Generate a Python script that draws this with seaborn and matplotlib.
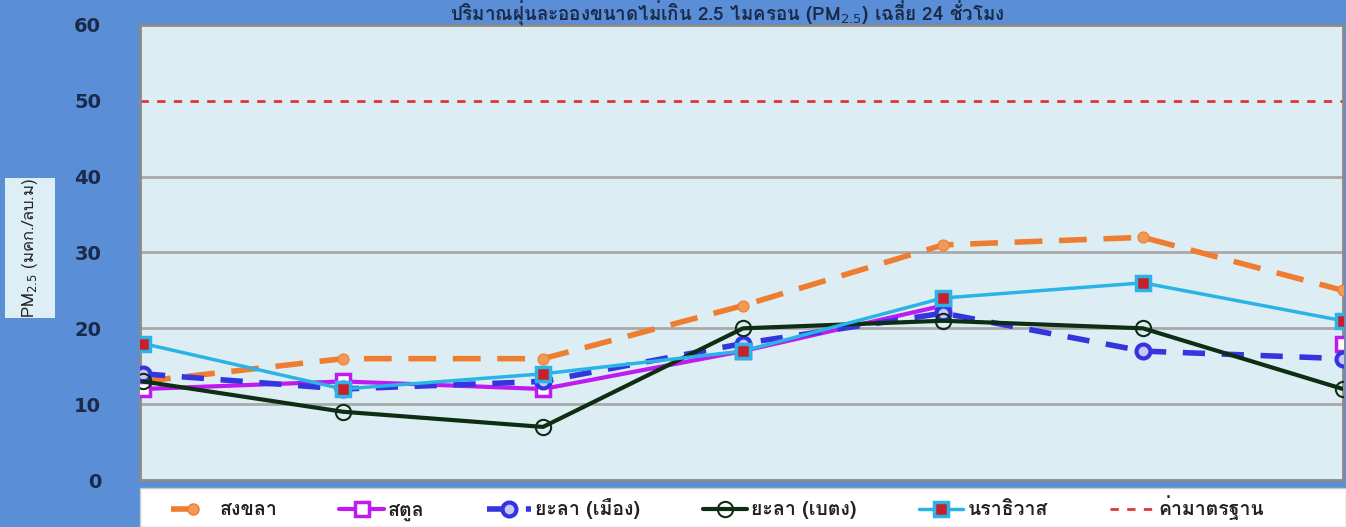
import matplotlib.pyplot as plt
import seaborn as sns
import numpy as np
import pandas as pd
from matplotlib import font_manager
from matplotlib.ft2font import FT2Font
from matplotlib.patches import Rectangle

# data (x labels are cropped in the reference)
days = [0, 1, 2, 3, 4, 5, 6]
songkhla = [13, 16, 16, 23, 31, 32, 25]
satun = [12, 13, 12, 17, 23, np.nan, 18]
yala_mueang = [14, 12, 13, 18, 22, 17, 16]
yala_betong = [13, 9, 7, 20, 21, 20, 12]
narathiwat = [18, 12, 14, 17, 24, 26, 21]
standard = 50
yticks = [0, 10, 20, 30, 40, 50, 60]

title = "ปริมาณฝุ่นละอองขนาดไม่เกิน 2.5 ไมครอน (PM$_{2.5}$) เฉลี่ย 24 ชั่วโมง"
ylabel = "PM$_{2.5}$ (มคก./ลบ.ม)"


def find_thai_font():
    """Return the name of an installed font that has Thai glyphs."""
    for f in font_manager.fontManager.ttflist:
        try:
            if 0x0E01 in FT2Font(f.fname).get_charmap():
                return f.name
        except Exception:
            continue
    return None


sns.set_theme(style="white")
thai = find_thai_font()
plt.rcParams["font.family"] = [thai, "DejaVu Sans"] if thai else ["DejaVu Sans"]

outer_blue = "#5A8ED6"
navy = "#1B2A4A"

fig = plt.figure(figsize=(13.46, 5.27), dpi=100, facecolor=outer_blue)
ax = fig.add_axes([140 / 1346, 47 / 527, 1203 / 1346, 455 / 527])
ax.set_facecolor("#DCEEF4")

# horizontal grid and standard line
for v in [10, 20, 30, 40]:
    ax.axhline(v, color="#A9A9A9", lw=2, zorder=1)
ax.axhline(standard, color="#E0363A", lw=2, ls=(0, (3, 3)), zorder=2)

series = [
    ("สงขลา", songkhla, dict(color="#EE7D30", lw=4, ls=(0, (5, 3)), marker="o",
                             markersize=8, markerfacecolor="#F29A55",
                             markeredgecolor="#EE7D30")),
    ("สตูล", satun, dict(color="#BF1AF0", lw=3, ls="-", marker="s", markersize=10,
                         markerfacecolor="white", markeredgecolor="#BF1AF0",
                         markeredgewidth=2.5)),
    ("ยะลา (เมือง)", yala_mueang, dict(color="#3535E0", lw=4, ls=(0, (4, 3)),
                                       marker="o", markersize=10,
                                       markerfacecolor="#C8C8F5",
                                       markeredgecolor="#3535E0",
                                       markeredgewidth=3)),
    ("ยะลา (เบตง)", yala_betong, dict(color="#0E2E14", lw=3, ls="-", marker="o",
                                      markersize=11, markerfacecolor="none",
                                      markeredgecolor="#0E2E14",
                                      markeredgewidth=1.5)),
    ("นราธิวาส", narathiwat, dict(color="#2AB3E6", lw=2.5, ls="-", marker="s",
                                  markersize=10, markerfacecolor="#C8202A",
                                  markeredgecolor="#2AB3E6",
                                  markeredgewidth=2.5)),
]

handles = []
for name, vals, style in series:
    df = pd.DataFrame({"day": days, "pm": vals})
    # split at missing values so gaps stay open
    seg = df["pm"].isna().cumsum()
    for _, part in df.dropna().groupby(seg[df["pm"].notna()]):
        sns.lineplot(data=part, x="day", y="pm", ax=ax, zorder=3,
                     legend=False, **style)
    handles.append(plt.Line2D([], [], label=name, **style))

handles.append(plt.Line2D([], [], color="#E0363A", lw=2, ls=(0, (3, 3)),
                          label="ค่ามาตรฐาน"))

ax.set_xlim(-0.015, 6)
ax.set_ylim(0, 60)
ax.set_xticks([])
ax.set_yticks(yticks)
ax.set_yticklabels([str(t) for t in yticks], fontsize=14, fontweight="bold",
                   color=navy, family="DejaVu Sans")
ax.tick_params(axis="y", length=0, pad=28)
ax.set_xlabel("")
ax.set_ylabel("")
for s in ax.spines.values():
    s.set_color("#8A8A8A")
    s.set_linewidth(2)

# title at the very top, above the plot area
fig.text(0.54, 1 - 12.5 / 527, title, ha="center", va="center",
         fontsize=13.5, fontweight="bold", color=navy)

# y label in its own light box
fig.patches.append(Rectangle((5 / 1346, 1 - 318 / 527), 50 / 1346, 140 / 527,
                             transform=fig.transFigure, facecolor="#DDEEF5",
                             edgecolor="none", zorder=0))
fig.text(30 / 1346, 1 - 248 / 527, ylabel, rotation=90, ha="center",
         va="center", fontsize=12, color="#222222")

# white legend band below the plot
fig.patches.append(Rectangle((140 / 1346, 0), 1206 / 1346, 39 / 527,
                             transform=fig.transFigure, facecolor="white",
                             edgecolor="#C8C8C8", zorder=0))
fig.legend(handles=handles, loc="center", ncol=6,
           bbox_to_anchor=(0.533, 19 / 527), frameon=False,
           prop={"size": 14, "weight": "bold"},
           handlelength=2.3, columnspacing=3.2, handletextpad=0.2,
           labelcolor="#222222")

fig.savefig("out.png", dpi=100, facecolor=outer_blue)
